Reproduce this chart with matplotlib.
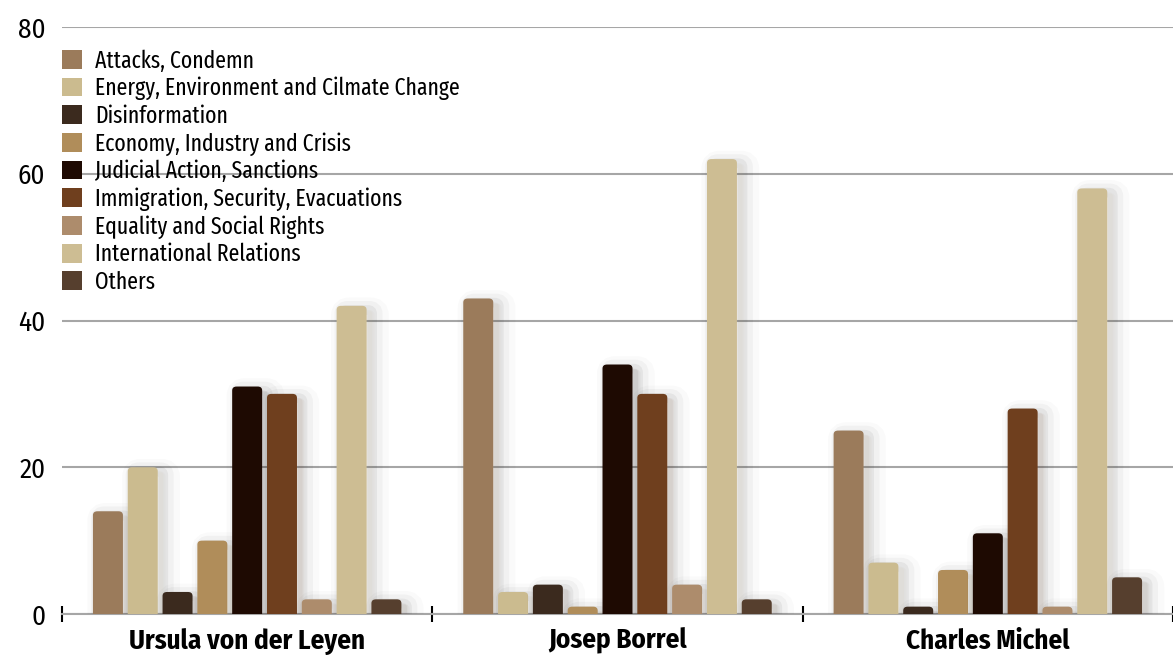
import numpy as np
import matplotlib
matplotlib.use("Agg")
import matplotlib.pyplot as plt
from matplotlib.patches import FancyBboxPatch, Patch
import matplotlib.patheffects as pe

plt.rcParams['font.family'] = ['Fira Sans Condensed', 'DejaVu Sans']
plt.rcParams['font.stretch'] = 'condensed'
narrow = ['Fira Sans Extra Condensed', 'Fira Sans Condensed', 'DejaVu Sans']

people = ["Ursula von der Leyen", "Josep Borrel", "Charles Michel"]
topics = ["Attacks, Condemn", "Energy, Environment and Cilmate Change",
          "Disinformation", "Economy, Industry and Crisis",
          "Judicial Action, Sanctions", "Immigration, Security, Evacuations",
          "Equality and Social Rights", "International Relations", "Others"]
colors = ["#9b7b5b", "#cbbb8f", "#3b2a1e", "#b08d5a", "#1e0a02",
          "#6f3f1e", "#ad8c6c", "#cdbd93", "#563f2e"]

# counts per topic, one list per person
ursula = [14, 20, 3, 10, 31, 30, 2, 42, 2]
josep = [43, 3, 4, 1, 34, 30, 4, 62, 2]
charles = [25, 7, 1, 6, 11, 28, 1, 58, 5]
values = np.array([ursula, josep, charles])

fig = plt.figure(figsize=(11.73, 6.6), dpi=100)
ax = fig.add_axes([62 / 1173, 1 - 614 / 660, 1 - 62 / 1173, (614 - 27) / 660])

pitch = 0.094
width = 0.081
x = np.arange(len(people))
offsets = (np.arange(len(topics)) - 4) * pitch

shadow = [pe.Stroke(linewidth=20, foreground="k", alpha=0.02, offset=(6, -4)),
          pe.Stroke(linewidth=13, foreground="k", alpha=0.035, offset=(5, -3)),
          pe.Stroke(linewidth=7, foreground="k", alpha=0.05, offset=(4, -3)),
          pe.Normal()]

for j, topic in enumerate(topics):
    bars = ax.bar(x + offsets[j], values[:, j], width, color=colors[j], alpha=0)
    for b in bars:
        # rounded top, bottom hidden under the axis
        p = FancyBboxPatch((b.get_x(), -2), b.get_width(), b.get_height() + 2,
                           boxstyle="round,pad=0,rounding_size=0.012",
                           mutation_aspect=45, facecolor=colors[j],
                           edgecolor="none", zorder=3)
        p.set_path_effects(shadow)
        ax.add_patch(p)

ax.set_xlim(-0.5, 2.5)
ax.set_ylim(0, 80)
ax.set_yticks([0, 20, 40, 60, 80])
ax.yaxis.grid(True, color="#a6a6a6", linewidth=1.5)
ax.set_axisbelow(True)
for s in ["top", "right", "left"]:
    ax.spines[s].set_visible(False)
ax.spines["bottom"].set_color("#a6a6a6")
ax.spines["bottom"].set_linewidth(1.5)
ax.tick_params(axis="y", length=0, pad=12, labelsize=19.5)

# separators between groups, labels at centers
ax.set_xticks([-0.5, 0.5, 1.5, 2.5])
ax.set_xticklabels([])
ax.tick_params(axis="x", direction="inout", length=12, width=1.5, color="black")
ax.set_xticks(x, minor=True)
ax.set_xticklabels(people, minor=True, fontsize=19.5, fontweight="bold")
ax.tick_params(axis="x", which="minor", length=0, pad=10)

handles = [Patch(facecolor=c, label=t) for c, t in zip(colors, topics)]
ax.legend(handles=handles, loc="upper left", bbox_to_anchor=(0.0, 0.962),
          frameon=False, prop={"family": narrow, "size": 17},
          handlelength=0.85, handleheight=0.85, handletextpad=0.55,
          labelspacing=0.18, borderaxespad=0, borderpad=0)

fig.savefig("out.png", dpi=100)
